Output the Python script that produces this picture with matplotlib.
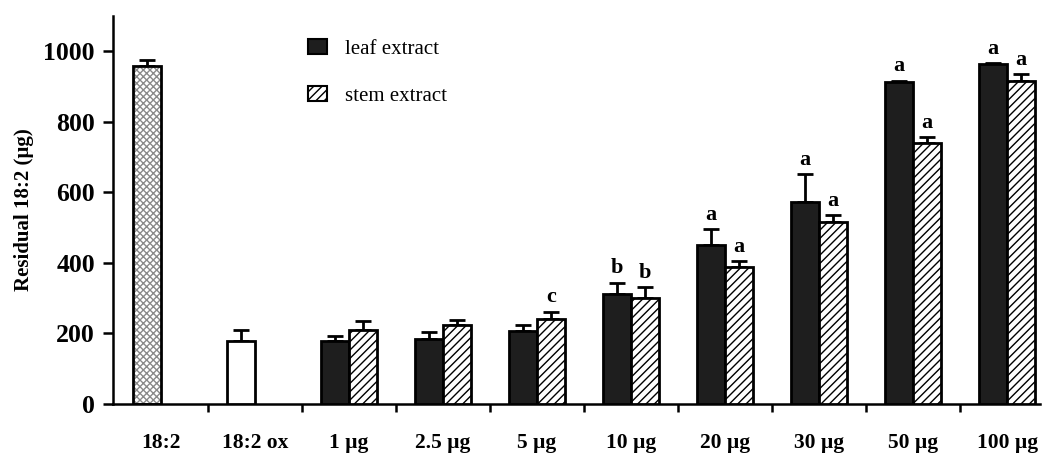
import numpy as np
import matplotlib
matplotlib.use("Agg")
import matplotlib.pyplot as plt
from matplotlib.patches import Patch

# dati
gruppi = ["18:2", "18:2 ox", "1 µg", "2.5 µg", "5 µg", "10 µg", "20 µg", "30 µg", "50 µg", "100 µg"]

# controlli (una sola barra)
ctrl_val = [957, 180]
ctrl_err = [17, 30]

# estratti (dosi da 1 a 100 µg)
leaf = [178, 185, 207, 312, 452, 574, 912, 963]
leaf_err = [14, 20, 18, 32, 45, 78, 5, 4]
stem = [210, 225, 240, 301, 388, 515, 741, 917]
stem_err = [25, 12, 22, 30, 17, 20, 16, 18]

leaf_lett = ["", "", "", "b", "a", "a", "a", "a"]
stem_lett = ["", "", "c", "b", "a", "a", "a", "a"]

plt.rcParams['font.family'] = ['Liberation Serif', 'DejaVu Serif']
plt.rcParams['hatch.linewidth'] = 1.0

fig = plt.figure(figsize=(10.49, 4.53), dpi=100)
ax = fig.add_axes([113/1049, 49/453, (1040-113)/1049, (437-49)/453])

w = 0.3
lw = 2
ek = dict(lw=2, capsize=6, capthick=2, ecolor='black')

x_ctrl = np.arange(2) - w/2
x_dose = np.arange(2, 10)

# 18:2 con puntinato chiaro
ax.bar(x_ctrl[0], ctrl_val[0], w, color='white', edgecolor='#8a8a8a', hatch='xxxxx', lw=0, zorder=2)
ax.bar(x_ctrl[0], ctrl_val[0], w, color='none', edgecolor='black', lw=lw, zorder=3)
# 18:2 ox bianca
ax.bar(x_ctrl[1], ctrl_val[1], w, color='white', edgecolor='black', lw=lw, zorder=3)
ax.errorbar(x_ctrl, ctrl_val, yerr=[[0, 0], ctrl_err], fmt='none', zorder=1, **ek)

# estratto foglia
ax.bar(x_dose - w/2, leaf, w, color='#1e1e1e', edgecolor='black', lw=lw, zorder=3)
ax.errorbar(x_dose - w/2, leaf, yerr=[np.zeros(8), leaf_err], fmt='none', zorder=1, **ek)

# estratto fusto
ax.bar(x_dose + w/2, stem, w, color='white', edgecolor='black', hatch='////', lw=lw, zorder=3)
ax.errorbar(x_dose + w/2, stem, yerr=[np.zeros(8), stem_err], fmt='none', zorder=1, **ek)

# lettere di significativita'
for i in range(8):
    if leaf_lett[i]:
        ax.annotate(leaf_lett[i], (x_dose[i] - w/2, leaf[i] + leaf_err[i]), xytext=(0, 3),
                    textcoords='offset points', ha='center', va='bottom', fontsize=16, fontweight='bold')
    if stem_lett[i]:
        ax.annotate(stem_lett[i], (x_dose[i] + w/2, stem[i] + stem_err[i]), xytext=(0, 3),
                    textcoords='offset points', ha='center', va='bottom', fontsize=16, fontweight='bold')

ax.set_xlim(-0.511, 9.35)
ax.set_ylim(0, 1100)

ax.spines['top'].set_visible(False)
ax.spines['right'].set_visible(False)
ax.spines['left'].set_linewidth(1.8)
ax.spines['bottom'].set_linewidth(1.8)

ax.set_yticks([0, 200, 400, 600, 800, 1000])
ax.tick_params(axis='y', direction='out', length=7, width=1.8, labelsize=18.5, pad=6)
for t in ax.get_yticklabels():
    t.set_fontweight('bold')

ax.set_xticks(np.arange(0.5, 9, 1))
ax.set_xticklabels([])
ax.tick_params(axis='x', which='major', direction='out', length=6, width=1.8)
ax.set_xticks(np.arange(10), minor=True)
ax.set_xticklabels(gruppi, minor=True, fontsize=15.5, fontweight='bold')
ax.tick_params(axis='x', which='minor', length=0, pad=21)

ax.set_ylabel("Residual 18:2 (µg)", fontsize=15, fontweight='bold', labelpad=7)

handles = [Patch(facecolor='#1e1e1e', edgecolor='black', lw=1.5),
           Patch(facecolor='white', edgecolor='black', hatch='////', lw=1.5)]
ax.legend(handles, ["leaf extract", "stem extract"], loc='upper left', bbox_to_anchor=(0.19, 0.99),
          frameon=False, fontsize=15, handlelength=0.9, handleheight=0.75, labelspacing=1.3, handletextpad=0.9)

fig.savefig("out.png", dpi=100)
